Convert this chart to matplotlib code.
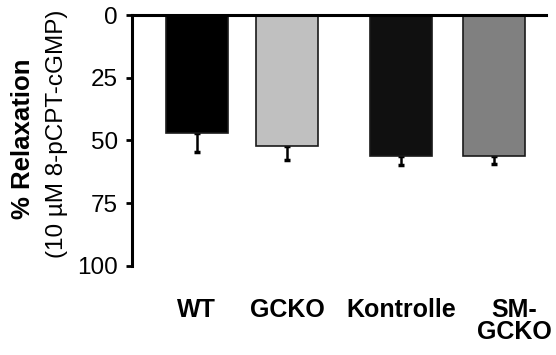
import numpy as np
import matplotlib
matplotlib.use("Agg")
import matplotlib.pyplot as plt
import matplotlib.transforms as mtransforms

# Daten
groups = ["WT", "GCKO", "Kontrolle", "SM-\nGCKO"]
relaxation = [47.1, 52.4, 56.1, 56.4]
sem = [7.6, 5.5, 3.6, 2.9]
yticks = [0, 25, 50, 75, 100]

# Darstellung
positions = [0, 1.46, 3.29, 4.79]
face_colors = ["#000000", "#c0c0c0", "#101010", "#808080"]

plt.rcParams["font.family"] = ["Liberation Sans", "DejaVu Sans"]

fig = plt.figure(figsize=(5.56, 3.55), dpi=100)
ax = fig.add_axes([0.2374, 0.2515, 0.982 - 0.2374, 0.9577 - 0.2515])

ax.bar(positions, relaxation, width=1.0, color=face_colors,
       edgecolor="#1a1a1a", linewidth=1.2, zorder=2)
ax.errorbar(positions, relaxation, yerr=[np.zeros(len(sem)), sem],
            fmt="none", ecolor="black", elinewidth=1.8, capsize=2.5,
            capthick=2.5, zorder=1)

ax.set_ylim(100, 0)
ax.set_xlim(-1.04, 5.63)
ax.set_yticks(yticks)
ax.tick_params(axis="y", length=4, width=2, labelsize=17.5, pad=6)
ax.set_xticks([])

for side in ["right", "bottom"]:
    ax.spines[side].set_visible(False)
for side in ["left", "top"]:
    ax.spines[side].set_linewidth(2.2)

# x-Beschriftung
trans = mtransforms.blended_transform_factory(ax.transData, fig.transFigure)
for x, name in zip(positions, groups):
    if "\n" in name:
        ax.text(x + 0.33, 1 - 298 / 355, name, transform=trans, ha="center",
                va="top", multialignment="center", fontsize=18,
                fontweight="bold", linespacing=0.88)
    else:
        ax.text(x, 1 - 298 / 355, name, transform=trans, ha="center",
                va="top", fontsize=18, fontweight="bold")

# y-Beschriftung
fig.text(0.041, 0.61, "% Relaxation", rotation=90, ha="center",
         va="center", fontsize=18.5, fontweight="bold")
fig.text(0.1025, 0.624, "(10 µM 8-pCPT-cGMP)", rotation=90, ha="center",
         va="center", fontsize=17.5)

fig.savefig("out.png", dpi=100)
